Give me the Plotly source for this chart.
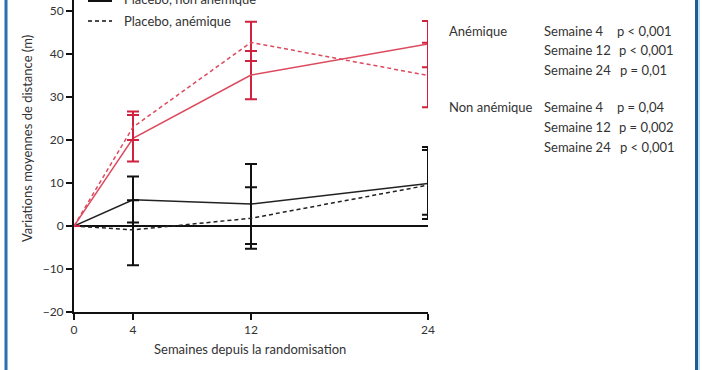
import plotly.graph_objects as go

weeks = [0, 4, 12, 24]

# Red series (treatment)
red_nonanem = [0, 20.4, 35.1, 42.3]
red_nonanem_err = [None, 5.4, 5.6, 5.4]
red_anem = [0, 23.0, 42.7, 35.0]
red_anem_err_plus = [None, 3.6, 4.8, 7.6]
red_anem_err_minus = [None, 3.0, 4.3, 7.4]

# Black series (placebo)
plc_nonanem = [0, 6.1, 5.1, 9.9]
plc_nonanem_err_plus = [None, 5.4, 9.3, 8.5]
plc_nonanem_err_minus = [None, 5.3, 9.3, 8.3]
plc_anem = [0, -0.9, 1.8, 9.5]
plc_anem_err_plus = [None, 6.9, 7.2, 8.2]
plc_anem_err_minus = [None, 8.2, 7.1, 6.9]

y_ticks = [-20, -10, 0, 10, 20, 30, 40, 50]
x_ticks = [0, 4, 12, 24]

RED = "#d0213f"
RED_LINE = "#dc4a5e"
BLACK = "#111111"
TXT = "#333333"
FONT = "Lato"

fig = go.Figure()

def add(y, name, color, lcolor, dash, eplus, eminus):
    fig.add_trace(go.Scatter(
        x=weeks, y=y, name=name, mode="lines",
        line=dict(color=lcolor, width=1.5, dash=dash),
        error_y=dict(type="data", array=eplus, arrayminus=eminus, symmetric=False,
                     color=color, thickness=2, width=6),
        cliponaxis=False, showlegend=False))

add(plc_nonanem, "Placebo, non anémique", BLACK, "#222222", "solid",
    plc_nonanem_err_plus, plc_nonanem_err_minus)
add(plc_anem, "Placebo, anémique", BLACK, "#222222", "4px,3px",
    plc_anem_err_plus, plc_anem_err_minus)
add(red_nonanem, "Traitement, non anémique", RED, RED_LINE, "solid",
    red_nonanem_err, red_nonanem_err)
add(red_anem, "Traitement, anémique", RED, RED_LINE, "4px,3px",
    red_anem_err_plus, red_anem_err_minus)

W, H = 702, 370
L, R, T, B = 74, 274, 0, 58
PW, PH = W - L - R, H - T - B

def px(xp):
    return (xp - L) / PW

def py(yp):
    return 1 - (yp - T) / PH

fig.update_layout(
    width=W, height=H,
    margin=dict(l=L, r=R, t=T, b=B),
    paper_bgcolor="white", plot_bgcolor="white",
    font=dict(family=FONT, size=13, color=TXT),
    xaxis=dict(range=[0, 24], tickvals=x_ticks, showgrid=False, zeroline=False,
               showline=True, linecolor=BLACK, linewidth=2,
               ticks="outside", ticklen=6, tickwidth=2, tickcolor=BLACK,
               tickfont=dict(size=12, color=TXT)),
    yaxis=dict(range=[-20, -20 + PH / 4.3], tickvals=y_ticks, showgrid=False,
               zeroline=True, zerolinecolor=BLACK, zerolinewidth=2,
               showline=True, linecolor=BLACK, linewidth=2,
               ticks="outside", ticklen=6, tickwidth=2, tickcolor=BLACK,
               tickfont=dict(size=12, color=TXT)),
)

def text(t, x, y, xanchor="left", angle=0, size=13):
    return dict(text=t, x=px(x), y=py(y), xanchor=xanchor, yanchor="middle",
                xref="paper", yref="paper", showarrow=False, textangle=angle,
                font=dict(size=size, color=TXT))

ann = []
ann.append(text("Semaines depuis la randomisation", 250, 349, xanchor="center"))
ann.append(text("Variations moyennes de distance (m)", 27, 139, xanchor="center", angle=-90))

# Legend (partly cut at top)
ann.append(text("Placebo, non anémique", 122, -1))
ann.append(text("Placebo, anémique", 122, 21))

rows = [
    ("Anémique", "Semaine 4", "p < 0,001", 31, 615),
    ("", "Semaine 12", "p < 0,001", 50, 617),
    ("", "Semaine 24", "p = 0,01", 70, 618),
    ("Non anémique", "Semaine 4", "p = 0,04", 107, 615),
    ("", "Semaine 12", "p = 0,002", 127, 617),
    ("", "Semaine 24", "p < 0,001", 147, 618),
]
for grp, wk, p, yy, pxx in rows:
    if grp:
        ann.append(text(grp, 447, yy))
    ann.append(text(wk, 542, yy))
    ann.append(text(p, pxx, yy))
fig.update_layout(annotations=ann)

shapes = [
    dict(type="line", xref="paper", yref="paper", x0=px(88), x1=px(112), y0=py(0), y1=py(0),
         line=dict(color=BLACK, width=4)),
    dict(type="line", xref="paper", yref="paper", x0=px(88), x1=px(112), y0=py(21), y1=py(21),
         line=dict(color=BLACK, width=1.5, dash="4px,3px")),
    dict(type="line", xref="paper", yref="paper", x0=px(6), x1=px(6), y0=py(0), y1=py(H),
         line=dict(color="#2a6fae", width=3)),
    dict(type="line", xref="paper", yref="paper", x0=px(696.5), x1=px(696.5), y0=py(0), y1=py(H),
         line=dict(color="#1f5d98", width=3)),
    dict(type="line", xref="paper", yref="paper", x0=px(699), x1=px(699), y0=py(0), y1=py(H),
         line=dict(color="#bfe0f5", width=2)),
]
fig.update_layout(shapes=shapes)

fig.write_html("out.html", config={"displayModeBar": False},
               post_script="document.body.style.margin='0';document.body.style.padding='0';")
